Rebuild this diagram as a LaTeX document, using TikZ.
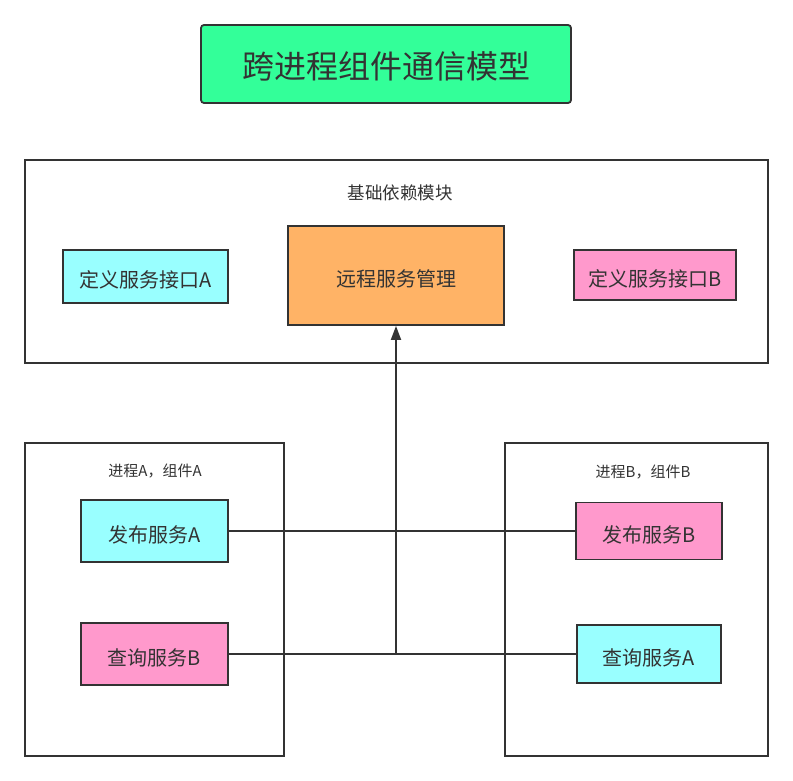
\documentclass[tikz,border=0pt]{standalone}
\usepackage{fontspec}
\setmainfont{Noto Sans CJK SC}
\usetikzlibrary{arrows.meta}
\definecolor{linec}{HTML}{333333}
\definecolor{titleg}{HTML}{33FF99}
\definecolor{cyanb}{HTML}{99FFFF}
\definecolor{pinkb}{HTML}{FF99CC}
\definecolor{orangeb}{HTML}{FFB366}
\tikzset{
  frame/.style={draw=linec, line width=1.8pt, fill=white},
  svc/.style={draw=linec, line width=1.8pt, inner sep=0pt, text=linec, text height=24pt, text depth=2pt, font=\fontsize{20}{22}\selectfont},
  lbl/.style={text=linec, inner sep=0pt, font=\fontsize{17.5}{19}\selectfont},
  plbl/.style={text=linec, inner sep=0pt, font=\fontsize{15}{17}\selectfont},
  conn/.style={draw=linec, line width=1.8pt},
}
\begin{document}
\begin{tikzpicture}[x=1pt,y=-1pt]
\useasboundingbox (0,0) rectangle (793,781);
% title
\node[draw=linec, line width=1.8pt, rounded corners=3pt, fill=titleg, minimum width=370pt, minimum height=78pt, inner sep=0pt, text=linec, text height=32pt, text depth=2.6pt, font=\fontsize{32}{34}\selectfont] (title) at (386,64) {跨进程组件通信模型};
% frames
\draw[frame] (25,160) rectangle (768,363);
\draw[frame] (25,443) rectangle (284,756);
\draw[frame] (505,443) rectangle (768,756);
\node[lbl] (basel) at (400,193) {基础依赖模块};
\node[plbl] (pal) at (155,471) {进程A，组件A};
\node[plbl] (pbl) at (643,472) {进程B，组件B};
% nodes
\node[svc, fill=cyanb, minimum width=165pt, minimum height=53pt] (ifa) at (145.5,276.5) {定义服务接口A};
\node[svc, fill=orangeb, minimum width=216pt, minimum height=99pt] (rm) at (396,275.5) {远程服务管理};
\node[svc, fill=pinkb, minimum width=162pt, minimum height=50pt] (ifb) at (655,275) {定义服务接口B};
\node[svc, fill=cyanb, minimum width=147pt, minimum height=62pt] (pa) at (154.5,531) {发布服务A};
\node[svc, fill=pinkb, minimum width=147pt, minimum height=62pt] (qb) at (154.5,654) {查询服务B};
\node[svc, fill=pinkb, minimum width=146pt, minimum height=57pt] (pb) at (649,531) {发布服务B};
\node[svc, fill=cyanb, minimum width=144pt, minimum height=58pt] (qa) at (649,654) {查询服务A};
% connectors
\draw[conn] (pa.east) -- (pb.west);
\draw[conn] (qb.east) -- (qa.west);
\coordinate (j) at (rm.south |- qb.east);
\draw[conn, -{Triangle[length=14pt,width=10pt]}] (j) -- (rm.south);
\end{tikzpicture}
\end{document}
